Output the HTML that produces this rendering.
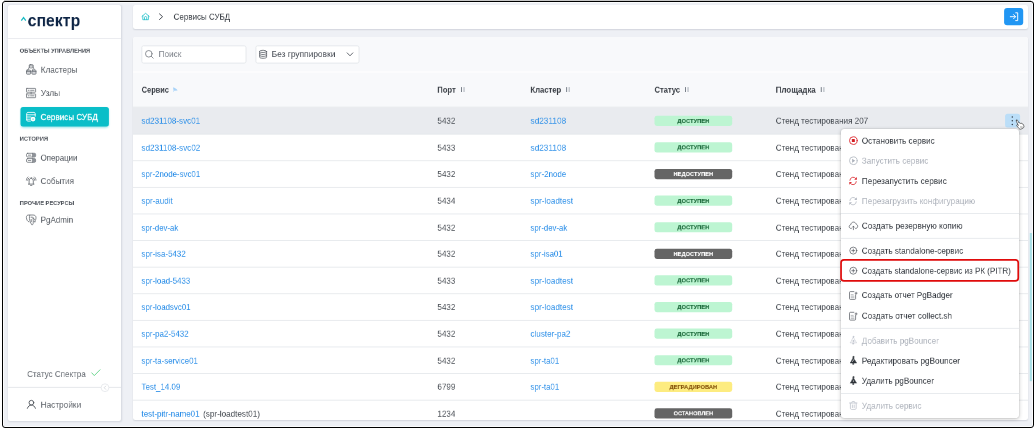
<!DOCTYPE html>
<html lang="ru">
<head>
<meta charset="utf-8">
<title>Сервисы СУБД</title>
<style>
*{box-sizing:border-box;margin:0;padding:0}
html,body{width:1036px;height:428px;overflow:hidden;background:#fff}
body{font-family:"Liberation Sans",sans-serif;position:relative}
.a{position:absolute}
.t{position:absolute;white-space:nowrap;z-index:5;transform-origin:0 0;will-change:transform}
#topline{left:4px;top:0;width:1027px;height:1px;background:#c9c9c9}
#frame{left:2px;top:1px;width:1032.3px;height:427.2px;border:1.15px solid #000;border-radius:3px;background:#eef0f5;box-shadow:inset 0 0 0 .8px #fff}
#sidebar{left:8.1px;top:4.9px;width:113px;height:415.7px;background:#fff;border-radius:2px;box-shadow:.8px .5px 2px rgba(40,50,70,.13)}
#topbar{left:133px;top:4.9px;width:895px;height:24.2px;background:#fff;border-radius:2.5px;box-shadow:0 1px 1.5px -.5px rgba(40,50,70,.14)}
#panel{left:133px;top:36.8px;width:895px;height:383px;background:#fff;border-radius:2.5px;box-shadow:0 1px 1.5px -.5px rgba(40,50,70,.14);overflow:hidden}
#menu{left:841px;top:128.7px;width:178.4px;height:289.3px;background:#fff;border-radius:3px;box-shadow:0 1px 4px rgba(0,0,0,.22),0 0 1.5px rgba(0,0,0,.25);z-index:20}
svg{position:absolute;overflow:visible}
</style>
</head>
<body>
<div class="a" id="frame"></div>
<div class="a" id="topline"></div>

<div class="a" id="sidebar"></div>

<div class="a" id="topbar"></div>

<div class="a" id="panel">
  
</div>

<div class="a" id="menu">
</div>

<svg class="a" style="left:0;top:0;z-index:4" width="1036" height="428" viewBox="0 0 1036 428">
<defs><clipPath id="pc"><rect x="133" y="36.800" width="895" height="383" rx="2.500"/></clipPath><filter id="sh" x="-20%" y="-40%" width="140%" height="200%"><feGaussianBlur stdDeviation="1"/></filter></defs>
<g clip-path="url(#pc)">
<!-- toolbar / table header backgrounds -->
<rect x="133" y="36.800" width="895" height="34.300" fill="#f8f9fb"/>
<rect x="133" y="71.100" width="895" height="1.800" fill="#fcfcfd"/>
<rect x="133" y="72.900" width="895" height="34.500" fill="#f8f9fb"/>
<rect x="133" y="106.700" width="895" height=".8" fill="#e4e6ea"/>
<!-- inputs -->
<rect x="141.800" y="45.800" width="104.200" height="17.300" rx="1.800" fill="#fff" stroke="#e1e4e8" stroke-width=".8"/>
<rect x="255.900" y="45.800" width="103.100" height="17.300" rx="1.800" fill="#fff" stroke="#e1e4e8" stroke-width=".8"/>
<rect x="133.0" y="107.1" width="895.0" height="27.05" fill="#e9ebef"/>
<rect x="133.0" y="133.75" width="895.0" height=".8" fill="#e3e6ea"/>
<rect x="654.5" y="115.75" width="77.7" height="10.2" rx="2.4" fill="#bdf5d2"/>
<rect x="133.0" y="160.35" width="895.0" height=".8" fill="#e3e6ea"/>
<rect x="654.5" y="142.35" width="77.7" height="10.2" rx="2.4" fill="#bdf5d2"/>
<rect x="133.0" y="186.95" width="895.0" height=".8" fill="#e3e6ea"/>
<rect x="654.5" y="168.95" width="77.7" height="10.2" rx="2.4" fill="#656565"/>
<rect x="133.0" y="213.55" width="895.0" height=".8" fill="#e3e6ea"/>
<rect x="654.5" y="195.55" width="77.7" height="10.2" rx="2.4" fill="#bdf5d2"/>
<rect x="133.0" y="240.15" width="895.0" height=".8" fill="#e3e6ea"/>
<rect x="654.5" y="222.15" width="77.7" height="10.2" rx="2.4" fill="#bdf5d2"/>
<rect x="133.0" y="266.75" width="895.0" height=".8" fill="#e3e6ea"/>
<rect x="654.5" y="248.75" width="77.7" height="10.2" rx="2.4" fill="#656565"/>
<rect x="133.0" y="293.35" width="895.0" height=".8" fill="#e3e6ea"/>
<rect x="654.5" y="275.35" width="77.7" height="10.2" rx="2.4" fill="#bdf5d2"/>
<rect x="133.0" y="319.95" width="895.0" height=".8" fill="#e3e6ea"/>
<rect x="654.5" y="301.95" width="77.7" height="10.2" rx="2.4" fill="#bdf5d2"/>
<rect x="133.0" y="346.55" width="895.0" height=".8" fill="#e3e6ea"/>
<rect x="654.5" y="328.55" width="77.7" height="10.2" rx="2.4" fill="#bdf5d2"/>
<rect x="133.0" y="373.15" width="895.0" height=".8" fill="#e3e6ea"/>
<rect x="654.5" y="355.15" width="77.7" height="10.2" rx="2.4" fill="#bdf5d2"/>
<rect x="133.0" y="399.75" width="895.0" height=".8" fill="#e3e6ea"/>
<rect x="654.5" y="381.75" width="77.7" height="10.2" rx="2.4" fill="#fdec80"/>
<rect x="654.5" y="408.35" width="77.7" height="10.2" rx="2.4" fill="#656565"/>
</g>
<!-- sidebar lines -->
<rect x="8.100" y="38.100" width="113" height=".8" fill="#e6e8ec"/>
<rect x="8.100" y="386.900" width="113" height=".8" fill="#dfe2e6"/>
<circle cx="105" cy="387.700" r="3.900" fill="#fff" stroke="#dfe2e6" stroke-width=".7"/>
<!-- active nav -->
<rect x="21" y="108.200" width="87.400" height="19.300" rx="2.500" fill="#14bdc6" opacity=".5" filter="url(#sh)"/>
<rect x="20.500" y="106.900" width="88.400" height="19.600" rx="2.500" fill="#0abec8"/>
<!-- exit button -->
<rect x="1004.100" y="7.900" width="19.100" height="17.400" rx="3" fill="#2196f3"/>
<!-- kebab -->
<rect x="1005.100" y="113.800" width="15" height="13.800" rx="2.500" fill="#bbdef8"/>
<!-- scrollbar thumb -->
<rect x="1029.800" y="233" width="2.100" height="148.200" fill="#a8dfe6"/>
</svg>
<svg class="a" style="left:0;top:0;z-index:25" width="1036" height="428" viewBox="0 0 1036 428" fill="none">
<rect x="841" y="213.200" width="178.400" height=".8" fill="#e3e6ea"/>
<rect x="841" y="237.900" width="178.400" height=".8" fill="#e3e6ea"/>
<rect x="841" y="327.900" width="178.400" height=".8" fill="#e3e6ea"/>
<rect x="841" y="393.200" width="178.400" height=".8" fill="#e3e6ea"/>
<rect x="841.050" y="259.950" width="177.200" height="20.900" rx="2.900" stroke="#e00b0b" stroke-width="1.700"/>
</svg>
<svg class="a" style="left:0;top:0;z-index:6" width="1036" height="428" viewBox="0 0 1036 428" fill="none" stroke-linecap="round" stroke-linejoin="round">
<!-- logo caret -->
<path d="M21.300 20.600l2.250-3 2.250 3" stroke="#1cbcc4" stroke-width="1.250" stroke-linecap="butt" stroke-linejoin="miter"/>
<!-- sidebar: clusters -->
<g stroke="#646970" stroke-width=".75">
  <rect x="29.300" y="64.600" width="3.800" height="3.300" rx=".9"/>
  <path d="M29.300 65.900h3.800"/>
  <path d="M29.300 67.100l-1.300 2.900M33.100 67.100l1.300 2.900"/>
  <rect x="26.500" y="70.100" width="4.100" height="4.100" rx=".7" fill="#dcdee1"/>
  <rect x="31.900" y="70.100" width="4.100" height="4.100" rx=".7" fill="#dcdee1"/>
  <path d="M26.500 71.600h4.100M31.900 71.600h4.100"/>
</g>
<!-- sidebar: nodes -->
<g stroke="#666b72" stroke-width=".75">
  <rect x="26.500" y="88.400" width="9.100" height="3.800" rx=".4"/>
  <rect x="26.500" y="93.900" width="9.100" height="3.800" rx=".4"/>
  <path d="M31.100 92.200v1.700"/>
  <path d="M28.200 90.300h.9M30.600 90.300h3.400M28.200 95.800h.9M30.600 95.800h3.400"/>
</g>
<!-- sidebar: services db (active, white) -->
<g stroke="#fff" stroke-width=".85">
  <path d="M26.700 120v-6.400c0-.7.500-1.200 1.200-1.200h6.100c.7 0 1.200.5 1.200 1.200v2.700"/>
  <path d="M26.700 114.800h8.500M26.700 117h4.200M26.700 119.200h3.400"/>
  <path d="M26.700 120c0 .6.500 1.100 1.100 1.100h2.600"/>
</g>
<circle cx="33" cy="119.100" r="2.400" fill="#fff"/>
<circle cx="33" cy="119.100" r=".55" fill="#0abec8"/>
<!-- sidebar: operations -->
<g stroke="#666b72" stroke-width=".75">
  <rect x="26.500" y="153.300" width="9.100" height="3.700" rx="1.200"/>
  <rect x="26.500" y="158.600" width="9.100" height="3.700" rx="1.200"/>
  <path d="M28.300 155.150h2.500M28.300 160.450h2.500"/>
  <path d="M32.600 153.300v3.700M32.600 158.600v3.700"/>
</g>
<path d="M32.600 153.300h1.800a1.200 1.200 0 0 1 1.200 1.200v1.300a1.200 1.200 0 0 1-1.200 1.200h-1.800zM32.600 158.600h1.800a1.200 1.200 0 0 1 1.200 1.200v1.300a1.200 1.200 0 0 1-1.200 1.200h-1.800z" fill="#8e9298"/>
<!-- sidebar: events (bell) -->
<g stroke="#585d64" stroke-width=".75">
  <path d="M28.400 184.100h5.600M29.100 184.100v-3.100c0-1.500.9-2.600 2.100-2.600s2.100 1.100 2.100 2.600v3.100"/>
  <path d="M30.500 185.400h1.400"/>
  <path d="M31.200 178.300v-.9"/>
  <path d="M28.900 178c-.7.600-1.100 1.400-1.200 2.300M33.500 178c.7.600 1.100 1.400 1.200 2.300"/>
  <path d="M27.900 177c-.9.800-1.400 1.900-1.500 3.100M34.500 177c.9.800 1.400 1.900 1.500 3.100"/>
</g>
<!-- sidebar: pgadmin elephant -->
<g stroke="#5f646b" stroke-width=".75">
  <path d="M28.900 221.900c-1.500-.5-2.400-2.300-2.500-4.400-.1-1.600.8-2.500 2.400-2.500h4.200c1.900 0 3 1 3 2.700 0 1.500-.5 2.700-1.300 3.600"/>
  <path d="M29.700 215.300c-.5 1.900-.4 4.300.5 6.300.5 1.200 1 2.200 1.500 3.100.9.200 1.400-.3 1.500-1.300.1-1.500.1-3.500-.1-5.700"/>
  <path d="M31 217.200h1.300M33.100 218.200c.9.100 1.500.700 1.500 1.500M34 221.700c.400.300.900.300 1.400.100"/>
  <path d="M31.200 219.400l.1 2.200"/>
</g>
<!-- sidebar: status check -->
<path d="M91.800 372.900l2.500 2.700 5.700-5.800" stroke="#5fd386" stroke-width=".9"/>
<!-- collapse chevron -->
<path d="M105.700 386.100l-1.500 1.600 1.500 1.600" stroke="#c9cdd3" stroke-width=".7"/>
<!-- sidebar: settings user -->
<g stroke="#4d5259" stroke-width=".9">
  <circle cx="31.400" cy="402.700" r="2.350"/>
  <path d="M27.400 408.300c.7-2.100 2.200-3.200 4-3.200s3.300 1.100 4 3.200"/>
</g>
<!-- topbar: home -->
<g stroke="#2cc3cc" stroke-width=".85">
  <path d="M142 16.400l3.600-3.100 3.600 3.100"/>
  <path d="M142.800 15.800v3.900h5.600v-3.900"/>
  <path d="M144.500 19.600v-2a1.100 1.100 0 0 1 2.200 0v2"/>
</g>
<!-- breadcrumb chevron -->
<path d="M159.500 13.900l3.100 2.800-3.100 2.800" stroke="#4a4f57" stroke-width="1"/>
<!-- exit icon -->
<g stroke="#fff" stroke-width=".95">
  <path d="M1010.300 16.700h5.100M1013.500 14.600l2.100 2.100-2.100 2.100"/>
  <path d="M1015.700 12.800h2v7.800h-2"/>
</g>
<!-- search icon -->
<g stroke="#737880" stroke-width=".8">
  <circle cx="148.800" cy="53.800" r="3.300"/>
  <path d="M151.300 56.300l1.900 1.900"/>
</g>
<!-- group icon -->
<g stroke="#5b6067" stroke-width=".8">
  <ellipse cx="263.100" cy="51.400" rx="3.500" ry="1.100"/>
  <path d="M259.600 51.400v5.800c0 .6 1.600 1.100 3.500 1.100s3.500-.5 3.500-1.100v-5.800"/>
  <path d="M259.600 53.400c0 .6 1.600 1.100 3.500 1.100s3.500-.5 3.500-1.100M259.600 55.300c0 .6 1.600 1.100 3.500 1.100s3.500-.5 3.500-1.100"/>
</g>
<!-- select chevron -->
<path d="M347.200 52.900l2.800 2.900 2.800-2.900" stroke="#4a4f57" stroke-width=".85"/>
<!-- sort icons -->
<g stroke="none">
  <path d="M173.100 87.400h.9v4.700h-.9z" fill="#cfe6fb"/>
  <path d="M173.100 87.400c1.800.1 3.500 1.200 4.500 3.100l-3.600.2z" fill="#a9d3f8"/>
  <g fill="#6c747e">
    <rect x="461.000" y="87.100" width=".9" height="4.900"/><rect x="566.200" y="87.100" width=".9" height="4.900"/><rect x="685.000" y="87.100" width=".9" height="4.900"/><rect x="820.800" y="87.100" width=".9" height="4.900"/>
  </g>
  <g fill="#c3c8ce">
    <rect x="463.300" y="87.100" width="1.500" height="4.900"/><rect x="568.500" y="87.100" width="1.500" height="4.900"/><rect x="687.300" y="87.100" width="1.500" height="4.900"/><rect x="823.100" y="87.100" width="1.500" height="4.900"/>
  </g>
</g>
</svg>
<svg class="a" style="left:0;top:0;z-index:30" width="1036" height="428" viewBox="0 0 1036 428" fill="none" stroke-linecap="round" stroke-linejoin="round">
<!-- kebab dots -->
<g fill="#36424f"><circle cx="1012.300" cy="117" r=".75"/><circle cx="1012.300" cy="120.800" r=".75"/><circle cx="1012.300" cy="124.600" r=".75"/></g>
<!-- cursor hand -->
<path d="M1016.600 120.100c.5-.3 1.100-.1 1.300.4l1.700 3.300.6-.3c.4-.2.900-.1 1.100.3l.3.500.5-.2c.4-.2.900 0 1.100.4l.2.400.3-.1c.4-.1.800.1 1 .5l.8 1.700c.5 1.100.2 2.300-.7 2.900l-2.400 1.300c-.9.500-2 .3-2.700-.5l-2.900-3.500c-.3-.4-.2-.9.200-1.200.4-.2.800-.2 1.100.2l.7.700-2.600-5.400c-.3-.5-.1-1.100.4-1.400z" fill="#fff" stroke="#222" stroke-width=".8" transform="translate(1016.700 120.200) scale(.8) translate(-1016.700 -120.200)"/>
<path d="M1020.400 126.600h1.800M1020.600 127.500h1.600" stroke="#777" stroke-width=".4"/>
<!-- stop -->
<circle cx="853.350" cy="140.600" r="3.850" stroke="#dc2a30" stroke-width=".9"/>
<rect x="851.850" y="139.100" width="3" height="3" rx=".4" fill="#d41c22"/>
<!-- play (disabled) -->
<circle cx="853.350" cy="160.700" r="3.850" stroke="#b3b9c2" stroke-width=".85"/>
<path d="M852.100 158.700l3.100 2-3.100 2z" fill="#aab0ba"/>
<!-- restart red -->
<g stroke="#dc3238" stroke-width=".85">
  <path d="M849.900 180.300a3.300 3.300 0 0 1 5.900-1.800"/>
  <path d="M856.300 181.600a3.300 3.300 0 0 1-5.900 1.800"/>
</g>
<path d="M856.900 177.100v2.700h-2.700zM849.300 184.800v-2.700h2.700z" fill="#dc3238"/>
<!-- reload gray -->
<g stroke="#b6bbc4" stroke-width=".8">
  <path d="M849.900 200.500a3.300 3.300 0 0 1 5.900-1.800"/>
  <path d="M856.300 201.800a3.300 3.300 0 0 1-5.900 1.800"/>
</g>
<path d="M856.900 197.300v2.700h-2.700zM849.300 205v-2.700h2.700z" fill="#b6bbc4"/>
<!-- cloud upload -->
<g stroke="#50555c" stroke-width=".7">
  <path d="M851.300 228.600c-1.200 0-2.100-.9-2.100-2 0-1 .7-1.800 1.700-2 .1-1.400 1.200-2.500 2.600-2.500 1.300 0 2.300.9 2.600 2.100 1 .2 1.600 1 1.600 2.100 0 1.200-.9 2.200-2.100 2.300"/>
  <path d="M853.400 229.700v-3.400M852.400 227.200l1-1 1 1"/>
</g>
<!-- plus circle x2 -->
<g stroke="#50555c" stroke-width=".7">
  <circle cx="853.300" cy="250.600" r="3.500"/><path d="M851.800 250.600h3M853.300 249.100v3"/>
  <circle cx="853.300" cy="270.700" r="3.500"/><path d="M851.800 270.700h3M853.300 269.200v3"/>
</g>
<!-- doc plus x2 -->
<g stroke="#50555c" stroke-width=".7">
  <path d="M853.900 291.600h-3.500a.9.900 0 0 0-.9.900v6a.9.900 0 0 0 .9.900h4.300a.9.900 0 0 0 .9-.9v-3.700"/>
  <path d="M855.100 293.200h2M856.100 292.200v2"/>
  <path d="M851.100 294.700h2.100M851.100 296.200h2.900M851.100 297.700h2.900" stroke="#8b9096" stroke-width=".6"/>
  <path d="M853.900 312.300h-3.500a.9.900 0 0 0-.9.900v6a.9.900 0 0 0 .9.900h4.300a.9.900 0 0 0 .9-.9v-3.700"/>
  <path d="M855.100 313.900h2M856.100 312.900v2"/>
  <path d="M851.100 315.400h2.100M851.100 316.900h2.900M851.100 318.400h2.900" stroke="#8b9096" stroke-width=".6"/>
</g>
<!-- pgbouncer icons -->
<g id="pgb1" fill="#bcc1ca" stroke="#bcc1ca" stroke-width=".5">
  <path d="M853.400 337.400l2.700 4.700.6.700h-6.600l.6-.7z" fill="none"/>
  <circle cx="853.400" cy="336.800" r=".55"/><path d="M852.900 343.200h1v.9h-1z"/>
  <circle cx="853.400" cy="341" r=".7"/>
</g>
<g fill="#2f343a" stroke="#2f343a" stroke-width=".5">
  <path d="M853.400 357.600l2.700 4.700.6.700h-6.600l.6-.7z"/>
  <circle cx="853.400" cy="357" r=".65"/><path d="M852.900 363.400h1v.9h-1z"/>
  <path d="M853.400 377.700l2.700 4.700.6.700h-6.600l.6-.7z"/>
  <circle cx="853.400" cy="377.100" r=".65"/><path d="M852.900 383.500h1v.9h-1z"/>
</g>
<path d="M852.400 361.600l1.700-2.200" stroke="#fff" stroke-width=".6"/>
<circle cx="853.400" cy="381" r=".6" fill="#fff"/>
<!-- trash -->
<g stroke="#c3c8d0" stroke-width=".85">
  <path d="M849.600 403h7.400M851.800 402.900v-.7c0-.4.300-.7.700-.7h1.600c.4 0 .7.300.7.700v.7"/>
  <path d="M850.400 403.200v5.100c0 .6.500 1.100 1.100 1.100h3.600c.6 0 1.100-.5 1.100-1.100v-5.100"/>
  <path d="M852.400 405v2.600M854.200 405v2.600"/>
</g>
</svg>

<span class="t" style="left:19px;top:46px;padding:0.77px 0 0 1.33px;font-size:9.474px;line-height:11px;color:#4b5058;font-weight:bold;transform:scale(0.6004,0.665);">ОБЪЕКТЫ УПРАВЛЕНИЯ</span>
<span class="t" style="left:19px;top:134px;padding:0.92px 0 0 1.31px;font-size:9.474px;line-height:11px;color:#4b5058;font-weight:bold;transform:scale(0.6097,0.665);">ИСТОРИЯ</span>
<span class="t" style="left:19px;top:199px;padding:0.02px 0 0 1.33px;font-size:9.474px;line-height:11px;color:#4b5058;font-weight:bold;transform:scale(0.6020,0.665);">ПРОЧИЕ РЕСУРСЫ</span>
<span class="t" style="left:40px;top:64px;padding:1.08px 0 0 1.30px;font-size:13.233px;line-height:15px;color:#5b6067;transform:scale(0.6153,0.665);">Кластеры</span>
<span class="t" style="left:40px;top:88px;padding:0.18px 0 0 1.28px;font-size:13.233px;line-height:15px;color:#5b6067;transform:scale(0.6270,0.665);">Узлы</span>
<span class="t" style="left:40px;top:112px;padding:0.18px 0 0 0.98px;font-size:13.233px;line-height:15px;color:#ffffff;transform:scale(0.6113,0.665);-webkit-text-stroke:.33px #fff;">Сервисы СУБД</span>
<span class="t" style="left:40px;top:152px;padding:1.08px 0 0 1.01px;font-size:13.233px;line-height:15px;color:#5b6067;transform:scale(0.5950,0.665);">Операции</span>
<span class="t" style="left:40px;top:176px;padding:0.03px 0 0 0.98px;font-size:13.233px;line-height:15px;color:#5b6067;transform:scale(0.6101,0.665);">События</span>
<span class="t" style="left:40px;top:214px;padding:1.23px 0 0 0.99px;font-size:13.233px;line-height:15px;color:#5b6067;transform:scale(0.6077,0.665);">PgAdmin</span>
<span class="t" style="left:27px;top:369px;padding:0.03px 0 0 0.17px;font-size:13.383px;line-height:15px;color:#666b72;transform:scale(0.6030,0.665);">Статус Спектра</span>
<span class="t" style="left:40px;top:399px;padding:1.23px 0 0 0.96px;font-size:13.233px;line-height:15px;color:#5b6067;transform:scale(0.6247,0.665);">Настройки</span>
<span class="t" style="left:173px;top:11px;padding:1.23px 0 0 0.99px;font-size:13.233px;line-height:15px;color:#33383f;transform:scale(0.6048,0.665);">Сервисы СУБД</span>
<span class="t" style="left:158px;top:49px;padding:0.18px 0 0 0.97px;font-size:13.233px;line-height:15px;color:#7d828a;transform:scale(0.6195,0.665);">Поиск</span>
<span class="t" style="left:271px;top:49px;padding:0.18px 0 0 1.11px;font-size:13.233px;line-height:15px;color:#4a4f57;transform:scale(0.6316,0.665);">Без группировки</span>
<span class="t" style="left:141px;top:84px;padding:1.23px 0 0 1.25px;font-size:13.233px;line-height:15px;color:#3a3f46;font-weight:bold;transform:scale(0.5599,0.665);">Сервис</span>
<span class="t" style="left:437px;top:84px;padding:1.23px 0 0 0.52px;font-size:13.233px;line-height:15px;color:#3a3f46;font-weight:bold;transform:scale(0.5790,0.665);">Порт</span>
<span class="t" style="left:530px;top:84px;padding:1.23px 0 0 0.86px;font-size:13.233px;line-height:15px;color:#3a3f46;font-weight:bold;transform:scale(0.5784,0.665);">Кластер</span>
<span class="t" style="left:654px;top:84px;padding:1.23px 0 0 1.05px;font-size:13.233px;line-height:15px;color:#3a3f46;font-weight:bold;transform:scale(0.5700,0.665);">Статус</span>
<span class="t" style="left:775px;top:84px;padding:1.23px 0 0 1.34px;font-size:13.233px;line-height:15px;color:#3a3f46;font-weight:bold;transform:scale(0.5971,0.665);">Площадка</span>
<span class="t" style="left:141px;top:115px;padding:1.46px 0 0 0.82px;font-size:13.233px;line-height:15px;color:#2a8ee8;transform:scale(0.6102,0.665);">sd231108-svc01</span>
<span class="t" style="left:437px;top:115px;padding:1.46px 0 0 0.83px;font-size:13.233px;line-height:15px;color:#454a51;transform:scale(0.6050,0.665);">5432</span>
<span class="t" style="left:530px;top:115px;padding:1.46px 0 0 0.80px;font-size:13.233px;line-height:15px;color:#2a8ee8;transform:scale(0.6253,0.665);">sd231108</span>
<span class="t" style="left:677px;top:117px;padding:0.95px 0 0 0.47px;font-size:9.023px;line-height:10px;color:#1e6b3c;font-weight:bold;transform:scale(0.6440,0.665);-webkit-text-stroke:.15px #1e6b3c;">ДОСТУПЕН</span>
<span class="t" style="left:775px;top:115px;padding:1.46px 0 0 1.31px;font-size:13.233px;line-height:15px;color:#454a51;transform:scale(0.6101,0.665);">Стенд тестирования 207</span>
<span class="t" style="left:141px;top:142px;padding:0.86px 0 0 0.82px;font-size:13.233px;line-height:15px;color:#2a8ee8;transform:scale(0.6113,0.665);">sd231108-svc02</span>
<span class="t" style="left:437px;top:142px;padding:0.86px 0 0 0.83px;font-size:13.233px;line-height:15px;color:#454a51;transform:scale(0.6050,0.665);">5433</span>
<span class="t" style="left:530px;top:142px;padding:0.86px 0 0 0.80px;font-size:13.233px;line-height:15px;color:#2a8ee8;transform:scale(0.6253,0.665);">sd231108</span>
<span class="t" style="left:677px;top:144px;padding:0.35px 0 0 0.47px;font-size:9.023px;line-height:10px;color:#1e6b3c;font-weight:bold;transform:scale(0.6440,0.665);-webkit-text-stroke:.15px #1e6b3c;">ДОСТУПЕН</span>
<span class="t" style="left:775px;top:142px;padding:0.86px 0 0 1.31px;font-size:13.233px;line-height:15px;color:#454a51;transform:scale(0.6101,0.665);">Стенд тестирования 207</span>
<span class="t" style="left:141px;top:169px;padding:0.26px 0 0 0.84px;font-size:13.233px;line-height:15px;color:#2a8ee8;transform:scale(0.5961,0.665);">spr-2node-svc01</span>
<span class="t" style="left:437px;top:169px;padding:0.26px 0 0 0.83px;font-size:13.233px;line-height:15px;color:#454a51;transform:scale(0.6050,0.665);">5432</span>
<span class="t" style="left:530px;top:169px;padding:0.26px 0 0 0.83px;font-size:13.233px;line-height:15px;color:#2a8ee8;transform:scale(0.5997,0.665);">spr-2node</span>
<span class="t" style="left:673px;top:170px;padding:1.25px 0 0 0.87px;font-size:9.023px;line-height:10px;color:#ffffff;font-weight:bold;transform:scale(0.6349,0.665);-webkit-text-stroke:.15px #ffffff;">НЕДОСТУПЕН</span>
<span class="t" style="left:775px;top:169px;padding:0.26px 0 0 1.31px;font-size:13.233px;line-height:15px;color:#454a51;transform:scale(0.6101,0.665);">Стенд тестирования 207</span>
<span class="t" style="left:141px;top:195px;padding:1.16px 0 0 0.82px;font-size:13.233px;line-height:15px;color:#2a8ee8;transform:scale(0.6066,0.665);">spr-audit</span>
<span class="t" style="left:437px;top:195px;padding:1.16px 0 0 0.83px;font-size:13.233px;line-height:15px;color:#454a51;transform:scale(0.6050,0.665);">5434</span>
<span class="t" style="left:530px;top:195px;padding:1.16px 0 0 0.81px;font-size:13.233px;line-height:15px;color:#2a8ee8;transform:scale(0.6152,0.665);">spr-loadtest</span>
<span class="t" style="left:677px;top:197px;padding:0.65px 0 0 0.47px;font-size:9.023px;line-height:10px;color:#1e6b3c;font-weight:bold;transform:scale(0.6440,0.665);-webkit-text-stroke:.15px #1e6b3c;">ДОСТУПЕН</span>
<span class="t" style="left:775px;top:195px;padding:1.16px 0 0 1.31px;font-size:13.233px;line-height:15px;color:#454a51;transform:scale(0.6101,0.665);">Стенд тестирования 207</span>
<span class="t" style="left:141px;top:222px;padding:0.56px 0 0 0.85px;font-size:13.233px;line-height:15px;color:#2a8ee8;transform:scale(0.5876,0.665);">spr-dev-ak</span>
<span class="t" style="left:437px;top:222px;padding:0.56px 0 0 0.83px;font-size:13.233px;line-height:15px;color:#454a51;transform:scale(0.6050,0.665);">5432</span>
<span class="t" style="left:530px;top:222px;padding:0.56px 0 0 0.85px;font-size:13.233px;line-height:15px;color:#2a8ee8;transform:scale(0.5876,0.665);">spr-dev-ak</span>
<span class="t" style="left:677px;top:224px;padding:0.05px 0 0 0.47px;font-size:9.023px;line-height:10px;color:#1e6b3c;font-weight:bold;transform:scale(0.6440,0.665);-webkit-text-stroke:.15px #1e6b3c;">ДОСТУПЕН</span>
<span class="t" style="left:775px;top:222px;padding:0.56px 0 0 1.31px;font-size:13.233px;line-height:15px;color:#454a51;transform:scale(0.6101,0.665);">Стенд тестирования 207</span>
<span class="t" style="left:141px;top:248px;padding:1.46px 0 0 0.83px;font-size:13.233px;line-height:15px;color:#2a8ee8;transform:scale(0.6015,0.665);">spr-isa-5432</span>
<span class="t" style="left:437px;top:248px;padding:1.46px 0 0 0.83px;font-size:13.233px;line-height:15px;color:#454a51;transform:scale(0.6050,0.665);">5432</span>
<span class="t" style="left:530px;top:248px;padding:1.46px 0 0 0.85px;font-size:13.233px;line-height:15px;color:#2a8ee8;transform:scale(0.5903,0.665);">spr-isa01</span>
<span class="t" style="left:673px;top:250px;padding:0.95px 0 0 0.87px;font-size:9.023px;line-height:10px;color:#ffffff;font-weight:bold;transform:scale(0.6349,0.665);-webkit-text-stroke:.15px #ffffff;">НЕДОСТУПЕН</span>
<span class="t" style="left:775px;top:248px;padding:1.46px 0 0 1.31px;font-size:13.233px;line-height:15px;color:#454a51;transform:scale(0.6101,0.665);">Стенд тестирования 207</span>
<span class="t" style="left:141px;top:275px;padding:0.86px 0 0 0.84px;font-size:13.233px;line-height:15px;color:#2a8ee8;transform:scale(0.5982,0.665);">spr-load-5433</span>
<span class="t" style="left:437px;top:275px;padding:0.86px 0 0 0.83px;font-size:13.233px;line-height:15px;color:#454a51;transform:scale(0.6050,0.665);">5433</span>
<span class="t" style="left:530px;top:275px;padding:0.86px 0 0 0.81px;font-size:13.233px;line-height:15px;color:#2a8ee8;transform:scale(0.6152,0.665);">spr-loadtest</span>
<span class="t" style="left:677px;top:277px;padding:0.35px 0 0 0.47px;font-size:9.023px;line-height:10px;color:#1e6b3c;font-weight:bold;transform:scale(0.6440,0.665);-webkit-text-stroke:.15px #1e6b3c;">ДОСТУПЕН</span>
<span class="t" style="left:775px;top:275px;padding:0.86px 0 0 1.31px;font-size:13.233px;line-height:15px;color:#454a51;transform:scale(0.6101,0.665);">Стенд тестирования 207</span>
<span class="t" style="left:141px;top:302px;padding:0.26px 0 0 0.84px;font-size:13.233px;line-height:15px;color:#2a8ee8;transform:scale(0.5954,0.665);">spr-loadsvc01</span>
<span class="t" style="left:437px;top:302px;padding:0.26px 0 0 0.83px;font-size:13.233px;line-height:15px;color:#454a51;transform:scale(0.6050,0.665);">5432</span>
<span class="t" style="left:530px;top:302px;padding:0.26px 0 0 0.81px;font-size:13.233px;line-height:15px;color:#2a8ee8;transform:scale(0.6152,0.665);">spr-loadtest</span>
<span class="t" style="left:677px;top:303px;padding:1.25px 0 0 0.47px;font-size:9.023px;line-height:10px;color:#1e6b3c;font-weight:bold;transform:scale(0.6440,0.665);-webkit-text-stroke:.15px #1e6b3c;">ДОСТУПЕН</span>
<span class="t" style="left:775px;top:302px;padding:0.26px 0 0 1.31px;font-size:13.233px;line-height:15px;color:#454a51;transform:scale(0.6101,0.665);">Стенд тестирования 207</span>
<span class="t" style="left:141px;top:328px;padding:1.16px 0 0 0.83px;font-size:13.233px;line-height:15px;color:#2a8ee8;transform:scale(0.5989,0.665);">spr-pa2-5432</span>
<span class="t" style="left:437px;top:328px;padding:1.16px 0 0 0.83px;font-size:13.233px;line-height:15px;color:#454a51;transform:scale(0.6050,0.665);">5432</span>
<span class="t" style="left:530px;top:328px;padding:1.16px 0 0 0.82px;font-size:13.233px;line-height:15px;color:#2a8ee8;transform:scale(0.6102,0.665);">cluster-pa2</span>
<span class="t" style="left:677px;top:330px;padding:0.65px 0 0 0.47px;font-size:9.023px;line-height:10px;color:#1e6b3c;font-weight:bold;transform:scale(0.6440,0.665);-webkit-text-stroke:.15px #1e6b3c;">ДОСТУПЕН</span>
<span class="t" style="left:775px;top:328px;padding:1.16px 0 0 1.31px;font-size:13.233px;line-height:15px;color:#454a51;transform:scale(0.6101,0.665);">Стенд тестирования 207</span>
<span class="t" style="left:141px;top:355px;padding:0.56px 0 0 0.84px;font-size:13.233px;line-height:15px;color:#2a8ee8;transform:scale(0.5941,0.665);">spr-ta-service01</span>
<span class="t" style="left:437px;top:355px;padding:0.56px 0 0 0.83px;font-size:13.233px;line-height:15px;color:#454a51;transform:scale(0.6050,0.665);">5432</span>
<span class="t" style="left:530px;top:355px;padding:0.56px 0 0 0.84px;font-size:13.233px;line-height:15px;color:#2a8ee8;transform:scale(0.5918,0.665);">spr-ta01</span>
<span class="t" style="left:677px;top:357px;padding:0.05px 0 0 0.47px;font-size:9.023px;line-height:10px;color:#1e6b3c;font-weight:bold;transform:scale(0.6440,0.665);-webkit-text-stroke:.15px #1e6b3c;">ДОСТУПЕН</span>
<span class="t" style="left:775px;top:355px;padding:0.56px 0 0 1.31px;font-size:13.233px;line-height:15px;color:#454a51;transform:scale(0.6101,0.665);">Стенд тестирования 207</span>
<span class="t" style="left:141px;top:381px;padding:1.46px 0 0 0.83px;font-size:13.233px;line-height:15px;color:#2a8ee8;transform:scale(0.5998,0.665);">Test_14.09</span>
<span class="t" style="left:437px;top:381px;padding:1.46px 0 0 0.83px;font-size:13.233px;line-height:15px;color:#454a51;transform:scale(0.6050,0.665);">6799</span>
<span class="t" style="left:530px;top:381px;padding:1.46px 0 0 0.84px;font-size:13.233px;line-height:15px;color:#2a8ee8;transform:scale(0.5918,0.665);">spr-ta01</span>
<span class="t" style="left:669px;top:383px;padding:0.95px 0 0 0.78px;font-size:9.023px;line-height:10px;color:#8a5a10;font-weight:bold;transform:scale(0.6401,0.665);-webkit-text-stroke:.15px #8a5a10;">ДЕГРАДИРОВАН</span>
<span class="t" style="left:775px;top:381px;padding:1.46px 0 0 1.31px;font-size:13.233px;line-height:15px;color:#454a51;transform:scale(0.6101,0.665);">Стенд тестирования 207</span>
<span class="t" style="left:141px;top:408px;padding:0.86px 0 0 0.83px;font-size:13.233px;line-height:15px;color:#2a8ee8;transform:scale(0.6026,0.665);">test-pitr-name01</span>
<span class="t" style="left:437px;top:408px;padding:0.86px 0 0 0.83px;font-size:13.233px;line-height:15px;color:#454a51;transform:scale(0.6050,0.665);">1234</span>
<span class="t" style="left:673px;top:410px;padding:0.35px 0 0 0.88px;font-size:9.023px;line-height:10px;color:#ffffff;font-weight:bold;transform:scale(0.6244,0.665);-webkit-text-stroke:.15px #ffffff;">ОСТАНОВЛЕН</span>
<span class="t" style="left:775px;top:408px;padding:0.86px 0 0 1.31px;font-size:13.233px;line-height:15px;color:#454a51;transform:scale(0.6101,0.665);">Стенд тестирования 207</span>
<span class="t" style="left:203px;top:408px;padding:0.86px 0 0 0.16px;font-size:13.233px;line-height:15px;color:#454a51;transform:scale(0.6146,0.665);">(spr-loadtest01)</span>
<span class="t" style="left:861px;top:135px;padding:1.08px 0 0 1.30px;font-size:13.233px;line-height:15px;color:#33383f;transform:scale(0.6170,0.665);z-index:30;">Остановить сервис</span>
<span class="t" style="left:861px;top:155px;padding:1.08px 0 0 1.30px;font-size:13.233px;line-height:15px;color:#adb2bb;transform:scale(0.6160,0.665);z-index:30;">Запустить сервис</span>
<span class="t" style="left:861px;top:176px;padding:0.03px 0 0 1.29px;font-size:13.233px;line-height:15px;color:#33383f;transform:scale(0.6191,0.665);z-index:30;">Перезапустить сервис</span>
<span class="t" style="left:861px;top:196px;padding:0.18px 0 0 1.29px;font-size:13.233px;line-height:15px;color:#adb2bb;transform:scale(0.6189,0.665);z-index:30;">Перезагрузить конфигурацию</span>
<span class="t" style="left:861px;top:220px;padding:1.23px 0 0 1.28px;font-size:13.233px;line-height:15px;color:#33383f;transform:scale(0.6253,0.665);z-index:30;">Создать резервную копию</span>
<span class="t" style="left:861px;top:245px;padding:1.08px 0 0 1.30px;font-size:13.233px;line-height:15px;color:#33383f;transform:scale(0.6133,0.665);z-index:30;">Создать standalone-сервис</span>
<span class="t" style="left:861px;top:265px;padding:1.08px 0 0 1.32px;font-size:13.233px;line-height:15px;color:#33383f;transform:scale(0.6080,0.665);z-index:30;">Создать standalone-сервис из РК (PITR)</span>
<span class="t" style="left:861px;top:290px;padding:0.33px 0 0 1.32px;font-size:13.233px;line-height:15px;color:#33383f;transform:scale(0.6080,0.665);z-index:30;">Создать отчет PgBadger</span>
<span class="t" style="left:861px;top:310px;padding:1.38px 0 0 1.29px;font-size:13.233px;line-height:15px;color:#33383f;transform:scale(0.6193,0.665);z-index:30;">Создать отчет collect.sh</span>
<span class="t" style="left:861px;top:335px;padding:0.78px 0 0 1.31px;font-size:13.233px;line-height:15px;color:#adb2bb;transform:scale(0.6110,0.665);z-index:30;">Добавить pgBouncer</span>
<span class="t" style="left:861px;top:355px;padding:1.08px 0 0 1.29px;font-size:13.233px;line-height:15px;color:#33383f;transform:scale(0.6179,0.665);z-index:30;">Редактировать pgBouncer</span>
<span class="t" style="left:861px;top:375px;padding:1.23px 0 0 1.31px;font-size:13.233px;line-height:15px;color:#33383f;transform:scale(0.6106,0.665);z-index:30;">Удалить pgBouncer</span>
<span class="t" style="left:861px;top:400px;padding:1.08px 0 0 1.29px;font-size:13.233px;line-height:15px;color:#adb2bb;transform:scale(0.6178,0.665);z-index:30;">Удалить сервис</span>
<span class="t" style="left:27px;top:11px;padding:0.01px 0 0 0.95px;font-size:25.113px;line-height:28px;color:#0c2344;font-weight:bold;transform:scale(0.6314,0.665);">спектр</span>
</body>
</html>
